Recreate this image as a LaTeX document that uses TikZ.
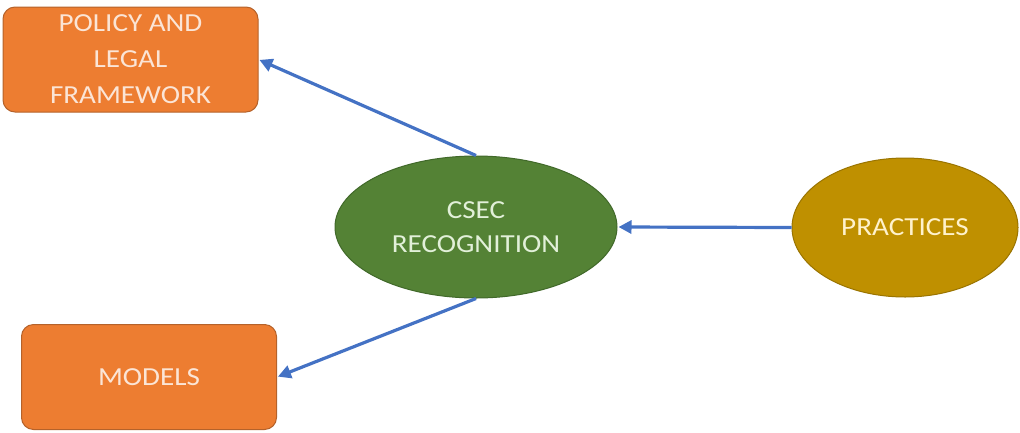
\documentclass[tikz,border=0pt]{standalone}
\usepackage{fontspec}
\setmainfont{Carlito}[FakeStretch=1.12]
\usetikzlibrary{shapes.geometric,arrows.meta}
\definecolor{orangefill}{HTML}{ED7D31}
\definecolor{orangeline}{HTML}{B5622A}
\definecolor{greenfill}{HTML}{548235}
\definecolor{greenline}{HTML}{41692A}
\definecolor{goldfill}{HTML}{BF9000}
\definecolor{goldline}{HTML}{9A7400}
\definecolor{arrowblue}{HTML}{4472C4}
\definecolor{creamtext}{HTML}{FBE5D6}
\definecolor{greentext}{HTML}{E2F0D9}
\definecolor{goldtext}{HTML}{FFF2CC}
\tikzset{
  boxnode/.style={draw=orangeline, fill=orangefill, rounded corners=12pt, line width=1pt,
    minimum width=255pt, minimum height=105pt, inner sep=0pt, align=center,
    text=creamtext, font=\fontsize{26}{36}\selectfont},
  ovalnode/.style={ellipse, line width=1pt, inner sep=0pt, align=center,
    font=\fontsize{26}{34}\selectfont},
  link/.style={draw=arrowblue, line width=3.2pt, -{Triangle[length=13pt,width=13pt]}, shorten >=1pt}
}
\begin{document}
\begin{tikzpicture}[x=1pt,y=-1pt]
\useasboundingbox (0,0) rectangle (1020,432);
\node[boxnode] (policy) at (130.5,59.5) {POLICY AND\\LEGAL\\FRAMEWORK};
\node[boxnode] (models) at (149,377) {MODELS};
\node[ovalnode, draw=greenline, fill=greenfill, text=greentext,
  minimum width=282pt, minimum height=142pt] (csec) at (476,227) {CSEC\\RECOGNITION};
\node[ovalnode, draw=goldline, fill=goldfill, text=goldtext,
  minimum width=226pt, minimum height=139pt] (practices) at (905,227.5) {PRACTICES};
\draw[link] (csec.north) -- (policy.east);
\draw[link] (csec.south) -- (models.east);
\draw[link] (practices.west) -- (csec.east);
\end{tikzpicture}
\end{document}
